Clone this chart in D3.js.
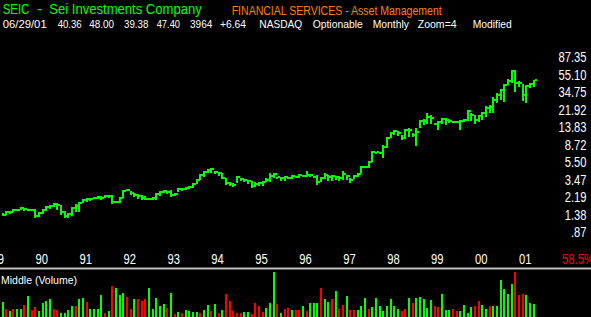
<!DOCTYPE html>
<html>
<head>
<meta charset="utf-8">
<script src="https://cdn.jsdelivr.net/npm/d3@7"></script>
<style>
  html, body { margin: 0; padding: 0; background: #000; overflow: hidden; }
  svg { display: block; }
  text { font-family: "Liberation Sans", Arial, sans-serif; }
</style>
</head>
<body>
<div id="chart"></div>
<script>
// monthly bars, May 1989 .. June 2001
const high = [
  1.44,1.51,1.51,1.60,1.60,1.68,1.64,1.60,1.60,1.60,
  1.47,1.60,1.73,1.77,1.87,1.87,1.77,1.51,1.44,1.68,
  1.82,1.92,2.08,2.13,2.13,2.19,2.25,2.25,2.31,2.31,
  2.31,1.97,2.19,2.63,2.70,2.56,2.43,2.37,2.31,2.25,
  2.13,2.19,2.43,2.56,2.63,2.56,2.63,2.43,2.77,2.77,
  2.85,2.92,3.17,3.52,4.01,4.35,4.58,4.71,4.35,4.23,
  4.12,3.61,3.25,3.17,3.81,3.61,3.52,3.43,3.34,3.25,
  3.25,3.34,3.61,4.12,4.12,3.71,3.71,3.81,3.71,3.91,
  3.81,4.01,3.91,4.35,4.01,3.81,3.91,3.71,4.12,3.91,
  3.91,3.81,3.81,4.35,3.91,3.61,3.91,4.12,4.96,4.96,
  5.65,7.36,7.17,7.17,8.62,10.65,12.16,12.82,12.49,11.23,
  13.17,13.52,11.84,13.52,16.6,17.1,20.0,19.0,15.4,16.2,
  17.5,17.5,17.1,16.2,16.2,16.6,17.1,21.6,20.0,19.0,
  19.0,20.5,24.0,24.7,30.5,33.9,37.6,43.0,49.1,62.0,
  62.0,46.5,43.0,41.9,44.1,48.00
];
const low = [
  1.33,1.36,1.40,1.47,1.51,1.55,1.51,1.51,1.51,1.26,
  1.29,1.40,1.51,1.60,1.68,1.55,1.36,1.26,1.26,1.33,
  1.47,1.47,1.87,1.92,1.97,2.08,2.08,2.02,2.13,2.13,
  1.82,1.87,1.87,2.13,2.56,2.31,2.19,2.08,2.02,2.02,
  2.02,2.02,2.02,2.25,2.43,2.37,2.19,2.25,2.50,2.56,
  2.63,2.70,2.77,3.08,3.43,3.71,4.12,4.12,4.01,3.81,
  3.52,3.00,2.92,2.85,3.17,3.34,3.25,3.08,2.77,2.85,
  2.92,2.92,3.25,3.25,3.61,3.61,3.34,3.34,3.52,3.52,
  3.61,3.61,3.71,3.71,3.71,3.61,3.00,3.25,3.52,3.34,
  3.34,3.43,3.34,3.43,3.43,3.17,3.52,3.71,4.12,4.71,
  4.71,5.50,6.98,6.80,6.12,7.97,10.37,11.23,10.94,9.84,
  10.10,10.65,10.65,8.40,13.52,14.6,15.0,15.0,14.6,12.82,
  15.0,14.6,15.4,15.4,15.4,12.82,15.8,16.2,16.2,15.0,
  15.8,16.6,18.0,20.0,20.0,26.0,28.2,26.7,41.9,44.1,
  34.75,39.7,27.4,26.0,38.6,39.38
];
const close = [
  1.36,1.47,1.47,1.55,1.55,1.64,1.60,1.55,1.55,1.33,
  1.44,1.55,1.68,1.73,1.82,1.77,1.47,1.33,1.40,1.64,
  1.73,1.87,2.02,2.08,2.08,2.13,2.19,2.13,2.25,2.25,
  1.92,1.92,2.13,2.56,2.63,2.43,2.31,2.25,2.13,2.08,
  2.08,2.13,2.37,2.50,2.56,2.50,2.31,2.37,2.70,2.70,
  2.77,2.85,3.08,3.43,3.91,4.23,4.46,4.58,4.23,4.12,
  3.61,3.17,3.08,3.00,3.71,3.52,3.43,3.34,2.92,3.08,
  3.17,3.25,3.43,3.81,4.01,3.71,3.61,3.71,3.61,3.81,
  3.71,3.91,3.81,3.91,3.91,3.71,3.25,3.61,3.91,3.71,
  3.81,3.71,3.61,4.01,3.81,3.43,3.81,4.01,4.83,4.83,
  5.50,7.17,7.17,6.98,8.18,10.37,11.84,12.49,11.84,10.37,
  12.82,12.82,11.23,12.16,16.2,16.2,18.0,17.5,15.0,15.8,
  17.1,16.6,16.2,15.8,15.8,16.2,16.6,21.1,19.0,16.6,
  18.5,20.0,22.8,23.4,28.2,32.2,36.7,41.9,46.5,60.3,
  44.1,44.1,32.2,40.8,43.0,47.40
];
const volume = [
  4590,2310,1890,2310,2490,2310,3600,6300,2100,3090,
  1890,4110,4890,5310,2310,2100,1110,1110,2100,3300,
  3300,5310,5700,4590,2310,2310,2310,6600,1110,1890,
  9300,8700,6600,7110,5910,2490,5490,5310,4710,5310,
  8700,2490,5700,3300,3900,2700,7290,900,1500,1110,
  2100,1710,1500,1500,1110,2100,3510,1890,3900,1110,
  2100,6900,4710,1710,1110,1110,1500,1500,900,4110,
  3300,1500,2700,4110,13500,3900,1110,2490,2700,2100,
  2100,2100,3300,1800,4110,4110,4110,8610,5400,4590,
  5400,7800,2400,3600,6300,2100,2100,2100,3300,5790,
  2490,2910,5790,3300,1800,3300,5400,3300,2310,1800,
  2490,5790,4110,5790,6090,5400,2610,5100,3300,3090,
  6810,2100,2100,2490,1800,1800,3600,1110,2910,3300,
  4800,3600,2490,3300,3300,3300,11100,8490,6810,9900,
  13500,6600,6900,6600,4110,3964
];
// 1 = up month (green volume), 0 = down month (red volume)
const volUp = [
  1,0,1,0,1,1,0,1,0,0, 1,1,1,1,0,0,1,1,1,1,
  0,1,1,0,1,1,1,1,0,1, 0,1,1,1,0,0,1,0,0,0,
  1,1,1,1,1,0,1,0,1,0, 1,1,1,1,0,1,1,0,1,0,
  1,0,0,0,0,0,1,1,0,0, 0,0,1,1,1,0,1,0,0,1,
  0,0,1,0,1,1,1,0,1,1, 0,1,0,0,1,0,0,1,1,1,
  0,1,1,1,1,1,1,1,1,0, 0,1,0,1,1,1,1,1,0,0,
  1,1,1,0,0,1,1,1,1,0, 0,1,1,0,1,1,1,1,1,1,
  0,0,0,1,1,1
];

const priceTicks = [87.35, 55.10, 34.75, 21.92, 13.83, 8.72, 5.50, 3.47, 2.19, 1.38, 0.87];
const priceTickLabels = ["87.35", "55.10", "34.75", "21.92", "13.83", "8.72", "5.50", "3.47", "2.19", "1.38", ".87"];
const yearLabels = ["89", "90", "91", "92", "93", "94", "95", "96", "97", "98", "99", "00", "01"];
// bar index of each January (bar 0 = May 1989)
const yearJan = [-4, 8, 20, 32, 44, 56, 68, 80, 92, 104, 116, 128, 140];

const quote = ["06/29/01", "40.36", "48.00", "39.38", "47.40", "3964", "+6.64", "NASDAQ", "Optionable", "Monthly", "Zoom=4", "Modified"];
const quoteX = [2.7, 57.7, 89.3, 124, 156.7, 190, 220, 259.3, 312.7, 372.7, 417.7, 472.7];
const quoteW = [44, 24, 24.7, 24.3, 23.3, 22.3, 26, 43, 50, 36.3, 39, 39];

const width = 591, height = 317;
const green = "#00ff00", red = "#ff0000";

const svg = d3.select("#chart")
  .append("svg")
  .attr("width", width)
  .attr("height", height)
  .attr("viewBox", [0, 0, width, height])
  .style("background", "#000");

const x = d3.scaleLinear().domain([0, high.length - 1]).range([2.5, 533.6]);
const y = d3.scaleLog().domain([0.87, 87.35]).range([232, 57]);
const yv = d3.scaleLinear().domain([0, 13500]).range([317, 272]);

const bars = d3.range(high.length);

// price bars (high-low with close tick)
const g = svg.append("g").attr("shape-rendering", "crispEdges").attr("fill", green);
g.selectAll("rect.hl")
  .data(bars)
  .join("rect")
  .attr("class", "hl")
  .attr("x", i => Math.round(x(i)) - 1)
  .attr("y", i => Math.round(y(high[i])))
  .attr("width", 2)
  .attr("height", i => Math.max(2, Math.round(y(low[i])) - Math.round(y(high[i]))));
g.selectAll("rect.cl")
  .data(bars)
  .join("rect")
  .attr("class", "cl")
  .attr("x", i => Math.round(x(i)) + 1)
  .attr("y", i => Math.round(y(close[i])) - 1)
  .attr("width", 2)
  .attr("height", 2);

// price axis labels (condensed look of the terminal font)
svg.append("g")
  .selectAll("text")
  .data(priceTicks)
  .join("text")
  .attr("transform", d => `translate(586.5,${y(d)}) scale(0.8,1)`)
  .attr("dy", "0.36em")
  .attr("text-anchor", "end")
  .attr("fill", "#fff")
  .style("font-size", "14px")
  .text((d, i) => priceTickLabels[i]);

// year labels
svg.append("g")
  .selectAll("text")
  .data(yearLabels)
  .join("text")
  .attr("transform", (d, i) => `translate(${x(yearJan[i]) + 10},264) scale(0.75,1)`)
  .attr("text-anchor", "middle")
  .attr("fill", "#fff")
  .style("font-size", "15px")
  .text(d => d);

svg.append("text")
  .attr("transform", "translate(562,264) scale(0.75,1)")
  .attr("fill", red)
  .style("font-size", "15px")
  .text("58.5%");

// header
const title = [["SEIC", 2.7, 26.6], ["-", 37.3, 4.5], ["Sei Investments Company", 49.3, 152.4]];
svg.append("g")
  .selectAll("text")
  .data(title)
  .join("text")
  .attr("x", d => d[1])
  .attr("y", 14)
  .attr("textLength", d => d[2])
  .attr("lengthAdjust", "spacingAndGlyphs")
  .attr("fill", green)
  .style("font-size", "14px")
  .text(d => d[0]);

svg.append("text")
  .attr("x", 231.7)
  .attr("y", 15)
  .attr("textLength", 210)
  .attr("lengthAdjust", "spacingAndGlyphs")
  .attr("fill", "#ff8000")
  .style("font-size", "12.5px")
  .text("FINANCIAL SERVICES - Asset Management");

svg.append("g")
  .selectAll("text")
  .data(quote)
  .join("text")
  .attr("x", (d, i) => quoteX[i])
  .attr("y", 27.5)
  .attr("textLength", (d, i) => quoteW[i])
  .attr("lengthAdjust", "spacingAndGlyphs")
  .attr("fill", "#fff")
  .style("font-size", "11px")
  .text(d => d);

// separator and volume panel
svg.append("rect")
  .attr("x", 0)
  .attr("y", 267.5)
  .attr("width", width)
  .attr("height", 2)
  .attr("fill", "#c0c0c0");

svg.append("text")
  .attr("x", 1)
  .attr("y", 283.5)
  .attr("textLength", 76)
  .attr("lengthAdjust", "spacingAndGlyphs")
  .attr("fill", "#fff")
  .style("font-size", "11px")
  .text("Middle (Volume)");

svg.append("g")
  .attr("shape-rendering", "crispEdges")
  .selectAll("rect")
  .data(bars)
  .join("rect")
  .attr("x", i => Math.round(x(i)) - 1)
  .attr("y", i => Math.round(yv(volume[i])))
  .attr("width", 2)
  .attr("height", i => 317 - Math.round(yv(volume[i])))
  .attr("fill", i => volUp[i] ? green : red);
</script>
</body>
</html>
